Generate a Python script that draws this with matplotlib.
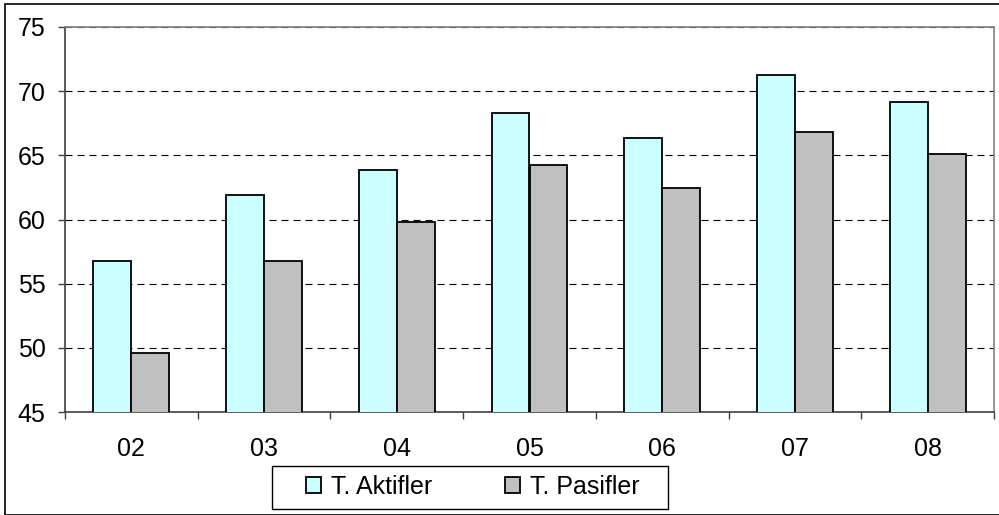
import matplotlib.pyplot as plt
import numpy as np
from matplotlib.patches import Rectangle

years = ["02", "03", "04", "05", "06", "07", "08"]
aktifler = [56.8, 61.9, 63.85, 68.3, 66.35, 71.25, 69.15]
pasifler = [49.6, 56.8, 59.8, 64.25, 62.45, 66.8, 65.1]

plt.rcParams['font.family'] = ['Liberation Sans', 'DejaVu Sans']

fig = plt.figure(figsize=(9.99, 5.15), dpi=100)
ax = fig.add_axes([65 / 999, 1 - 412 / 515, (994 - 65) / 999, (412 - 27) / 515])

# outer chart frame
fig.patches.append(Rectangle((5 / 999, 0), 1.2, 1 - 4 / 515, transform=fig.transFigure,
                             fill=False, edgecolor="black", linewidth=1.2, zorder=0))

x = np.arange(len(years))
w = 1 / 3.5
ax.bar(x - w / 2, aktifler, w, color="#CCFFFF", edgecolor="black",
       linewidth=1.3, label="T. Aktifler", zorder=3)
ax.bar(x + w / 2, pasifler, w, color="#C0C0C0", edgecolor="black",
       linewidth=1.3, label="T. Pasifler", zorder=3)

ax.set_ylim(45, 75)
ax.set_xlim(-0.5, len(years) - 0.5)
ax.set_yticks([45, 50, 55, 60, 65, 70, 75])
ax.yaxis.grid(True, color="black", linestyle=(0, (6.3, 4.5)), linewidth=0.8, zorder=1)
ax.set_axisbelow(True)

ax.set_xticks(x)
ax.set_xticklabels(years)
ax.set_xticks(np.arange(len(years) + 1) - 0.5, minor=True)
ax.tick_params(axis="x", which="major", length=0, pad=18, labelsize=18)
ax.tick_params(axis="x", which="minor", length=5, width=1, color="#404040", direction="out")
ax.tick_params(axis="y", length=5, width=1, color="#404040", pad=9, labelsize=18)

ax.spines["top"].set_color("#808080")
ax.spines["right"].set_color("#808080")
ax.spines["left"].set_color("#404040")
ax.spines["bottom"].set_color("#404040")
for s in ax.spines.values():
    s.set_linewidth(1.2)

# legend box drawn separately (wide side padding)
fig.patches.append(Rectangle((272 / 999, 1 - 509 / 515), (668 - 272) / 999, 43 / 515,
                             transform=fig.transFigure, fill=False,
                             edgecolor="black", linewidth=1.0))
fig.legend(loc="center", bbox_to_anchor=(473 / 999, 1 - 487 / 515), ncol=2,
           fontsize=18, frameon=False,
           handlelength=0.6, handleheight=0.6, handletextpad=0.4,
           columnspacing=2.9, borderpad=0, borderaxespad=0)

fig.savefig("out.png", dpi=100)
